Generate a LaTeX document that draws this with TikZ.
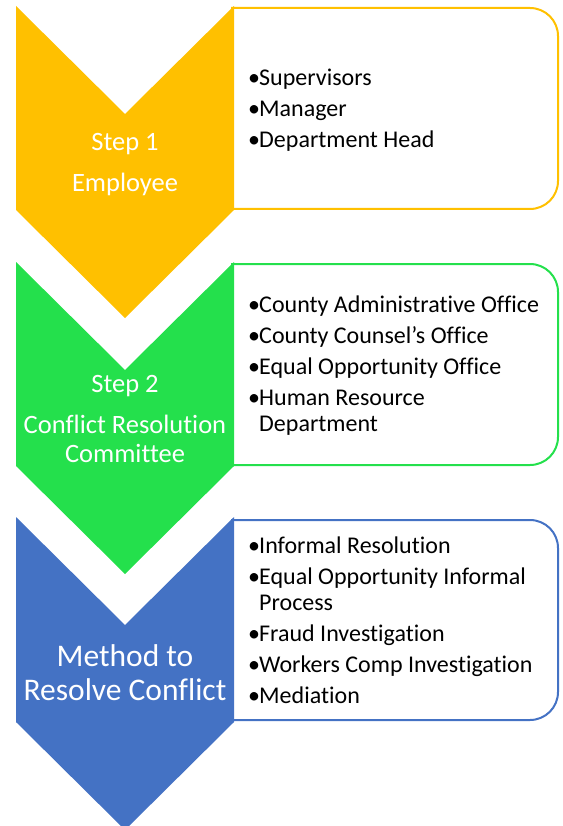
\documentclass[tikz,border=0pt]{standalone}
\usepackage{fontspec}
\setmainfont{Carlito}[Ligatures={NoCommon,NoContextual}, RawFeature={-calt;-dlig}]
\definecolor{stepyellow}{HTML}{FFC000}
\definecolor{stepgreen}{HTML}{24E04C}
\definecolor{stepblue}{HTML}{4472C4}
\newcommand{\blt}{\makebox[11pt][l]{•}}
\tikzset{
  steptext/.style={text=white, align=center, inner sep=0pt, font=\fontsize{26.5}{29}\selectfont},
  listtext/.style={text=black, align=left, anchor=west, inner sep=0pt, font=\fontsize{24}{26}\selectfont},
  listbox/.style={line width=2pt},
}
\begin{document}
\begin{tikzpicture}[x=1pt, y=-1pt]
\clip (0,0) rectangle (562,826);

% List boxes
\draw [listbox, stepyellow] (232,8) -- (530,8) arc[start angle=-90, end angle=0, radius=28]
  -- (558,181) arc[start angle=0, end angle=90, radius=28] -- (232,209) -- cycle;
\draw [listbox, stepgreen] (232,264) -- (530,264) arc[start angle=-90, end angle=0, radius=28]
  -- (558,437) arc[start angle=0, end angle=90, radius=28] -- (232,465) -- cycle;
\draw [listbox, stepblue] (232,520) -- (530,520) arc[start angle=-90, end angle=0, radius=28]
  -- (558,692) arc[start angle=0, end angle=90, radius=28] -- (232,720) -- cycle;

% Chevrons
\fill [stepyellow] (16,6) -- (125,114) -- (234,6) -- (234,210) -- (125,318) -- (16,210) -- cycle;
\fill [stepgreen] (16,262) -- (125,370) -- (234,262) -- (234,466) -- (125,574) -- (16,466) -- cycle;
\fill [stepblue] (16,517) -- (125,625) -- (234,517) -- (234,722) -- (125,830) -- (16,722) -- cycle;

% Step labels
\node [steptext] (step1) at (125,165) {Step 1\\[12pt]Employee};
\node [steptext] (step2) at (125,418.5) {Step 2\\[12pt]Conflict Resolution\\Committee};
\node [steptext, font=\fontsize{31.5}{34}\selectfont] (method) at (125,673) {Method to\\Resolve Conflict};

% Bullet lists
\node [listtext] (list1) at (248,110) {\blt Supervisors\\[5pt]\blt Manager\\[5pt]\blt Department Head};
\node [listtext] (list2) at (248,366) {\blt County Administrative Office\\[5pt]\blt County Counsel’s Office\\[5pt]\blt Equal Opportunity Office\\[5pt]\blt Human Resource\\\hspace*{11pt}Department};
\node [listtext] (list3) at (248,620) {\blt Informal Resolution\\[5pt]\blt Equal Opportunity Informal\\\hspace*{11pt}Process\\[5pt]\blt Fraud Investigation\\[5pt]\blt Workers Comp Investigation\\[5pt]\blt Mediation};
\end{tikzpicture}
\end{document}
